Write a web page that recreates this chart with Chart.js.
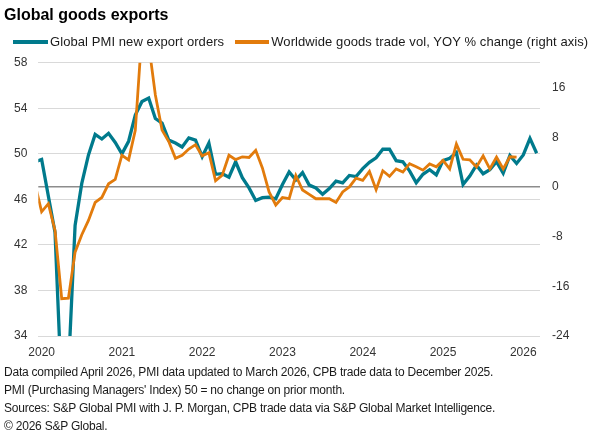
<!DOCTYPE html>
<html>
<head>
<meta charset="utf-8">
<script src="https://cdn.jsdelivr.net/npm/chart.js@4.4.1/dist/chart.umd.min.js"></script>
<style>
  html, body { margin: 0; padding: 0; background: #fff; }
  body { width: 595px; height: 433px; position: relative; overflow: hidden;
         font-family: "Liberation Sans", Arial, sans-serif; }
  canvas { position: absolute; left: 0; top: 0; }
  #title { position: absolute; left: 4px; top: 4.5px; font-weight: bold; font-size: 16px;
           line-height: 19px; color: #000; white-space: nowrap; }
  #legend { position: absolute; left: 13px; top: 34px; height: 16px; display: flex;
            align-items: center; font-size: 13px; line-height: 16px; color: #1a1a1a; white-space: nowrap;
            letter-spacing: 0.08px; }
  .sw { height: 4px; margin-right: 2px; }
  .lt { margin-right: 11px; }
  #foot { position: absolute; left: 4px; top: 363px; font-size: 12px; line-height: 18px;
          color: #1a1a1a; white-space: nowrap; letter-spacing: -0.22px; }
</style>
</head>
<body>
<canvas id="c" width="595" height="433"></canvas>
<div id="title">Global goods exports</div>
<div id="legend"></div>
<div id="foot">
  <div>Data compiled April 2026, PMI data updated to March 2026, CPB trade data to December 2025.</div>
  <div>PMI (Purchasing Managers' Index) 50 = no change on prior month.</div>
  <div>Sources: S&amp;P Global PMI with J. P. Morgan, CPB trade data via S&amp;P Global Market Intelligence.</div>
  <div>© 2026 S&amp;P Global.</div>
</div>
<script>
// ---- data (monthly; first value = Dec 2019, only a stub of it is visible at the left edge) ----
const yearTicks = ['2020', '2021', '2022', '2023', '2024', '2025', '2026'];

const seriesNames = ['Global PMI new export orders',
                     'Worldwide goods trade vol, YOY % change (right axis)'];

// Global PMI new export orders, Dec 2019 – Mar 2026 (left axis)
const pmiNewExportOrders = [
  49.3,
  49.5, 46.3, 43.1, 29.0, 31.0, 43.7, 47.4, 49.9, 51.7, 51.3, 51.8, 51.0,
  50.0, 51.1, 53.4, 54.6, 54.9, 53.1, 52.7, 51.2, 50.95, 50.6, 51.4, 51.2,
  49.75, 50.95, 48.2, 48.25, 47.95, 49.3, 47.9, 47.0, 45.9, 46.15, 46.2, 46.05,
  47.3, 48.4, 47.7, 48.35, 47.25, 47.0, 46.45, 46.95, 47.6, 47.45, 48.1, 48.0,
  48.7, 49.25, 49.65, 50.4, 50.4, 49.4, 49.3, 48.5, 47.45, 48.2, 48.6, 48.15,
  49.4, 49.6, 50.1, 47.3, 48.05, 49.0, 48.25, 48.6, 49.3, 48.3, 49.85, 49.15,
  49.9, 51.35, 50.05
];

// Worldwide goods trade volume, YoY % change, Dec 2019 – Dec 2025 (right axis)
const goodsTradeYoY = [
  0.5,
  -4.0, -2.7, -7.0, -18.0, -17.9, -10.5, -7.7, -5.4, -2.5, -1.7, 0.5, 1.2,
  5.1, 4.35, 9.1, 25.0, 23.0, 14.8, 9.15, 7.3, 4.6, 5.1, 6.1, 6.8,
  5.0, 5.5, 1.0, 1.9, 5.1, 4.4, 4.85, 4.75, 5.9, 3.05, -0.8, -2.9,
  -1.7, -1.9, 1.85, -0.5, -1.2, -1.9, -1.9, -1.9, -2.5, -0.8, 0.0, 1.4,
  1.05, 2.5, -0.45, 2.6, 1.7, 2.9, 2.4, 3.75, 3.25, 2.7, 3.7, 3.25,
  4.27, 2.9, 6.9, 4.45, 4.35, 3.2, 5.0, 2.9, 4.8, 2.9, 4.85, 4.8
];

// ---- styling ----
const TEAL = '#007a8c';
const ORANGE = '#e27b0c';
const FONT = '"Liberation Sans", Arial, sans-serif';
const TICK_COLOR = '#333333';

Chart.defaults.font.family = FONT;

// month index: Jan 2020 = 0 (array index 0 is Dec 2019 -> -1)
const toPoints = arr => arr.map((v, i) => ({ x: i - 1, y: v }));

// HTML legend built from the dataset names/colours
const legendEl = document.getElementById('legend');
[[seriesNames[0], TEAL, 35], [seriesNames[1], ORANGE, 34]].forEach(([name, col, w]) => {
  const sw = document.createElement('div');
  sw.className = 'sw'; sw.style.width = w + 'px'; sw.style.background = col;
  const t = document.createElement('span');
  t.className = 'lt'; t.textContent = name;
  legendEl.appendChild(sw); legendEl.appendChild(t);
});

new Chart(document.getElementById('c'), {
  type: 'line',
  data: {
    datasets: [
      {
        label: seriesNames[0],
        data: toPoints(pmiNewExportOrders),
        yAxisID: 'yL',
        borderColor: TEAL,
        backgroundColor: TEAL,
        borderWidth: 3.3,
        pointRadius: 0,
        tension: 0,
        order: 1,
        clip: 0
      },
      {
        label: seriesNames[1],
        data: toPoints(goodsTradeYoY),
        yAxisID: 'yR',
        borderColor: ORANGE,
        backgroundColor: ORANGE,
        borderWidth: 2.8,
        pointRadius: 0,
        tension: 0,
        order: 0,
        clip: 0
      }
    ]
  },
  options: {
    responsive: false,
    animation: false,
    layout: { padding: { top: 62.7, left: 0, right: 0, bottom: 0 } },
    plugins: { legend: { display: false }, tooltip: { enabled: false }, title: { display: false } },
    scales: {
      x: {
        type: 'linear',
        min: -0.5,
        max: 74.5,
        afterBuildTicks: s => { s.ticks = yearTicks.map((_, k) => ({ value: 12 * k })); },
        ticks: {
          callback: v => yearTicks[Math.round(v / 12)],
          font: { size: 12 },
          color: TICK_COLOR,
          padding: 9,
          maxRotation: 0,
          autoSkip: false
        },
        grid: { display: false, drawTicks: false },
        border: { display: false },
        afterFit: s => { s.height = 97; }
      },
      yL: {
        position: 'left',
        min: 34,
        max: 58,
        ticks: { stepSize: 4, padding: 11, font: { size: 12 }, color: TICK_COLOR },
        grid: { color: '#d9d9d9', lineWidth: 1, drawTicks: false },
        border: { display: false },
        afterFit: s => { s.width = 38.3; }
      },
      yR: {
        position: 'right',
        min: -24,
        max: 20,
        ticks: { stepSize: 8, includeBounds: false, padding: 12, font: { size: 12 }, color: TICK_COLOR },
        grid: {
          drawTicks: false,
          color: c => (c.tick && c.tick.value === 0) ? '#8c8c8c' : 'rgba(0,0,0,0)',
          lineWidth: 1.5
        },
        border: { display: false },
        afterFit: s => { s.width = 55; }
      }
    }
  }
});
</script>
</body>
</html>
